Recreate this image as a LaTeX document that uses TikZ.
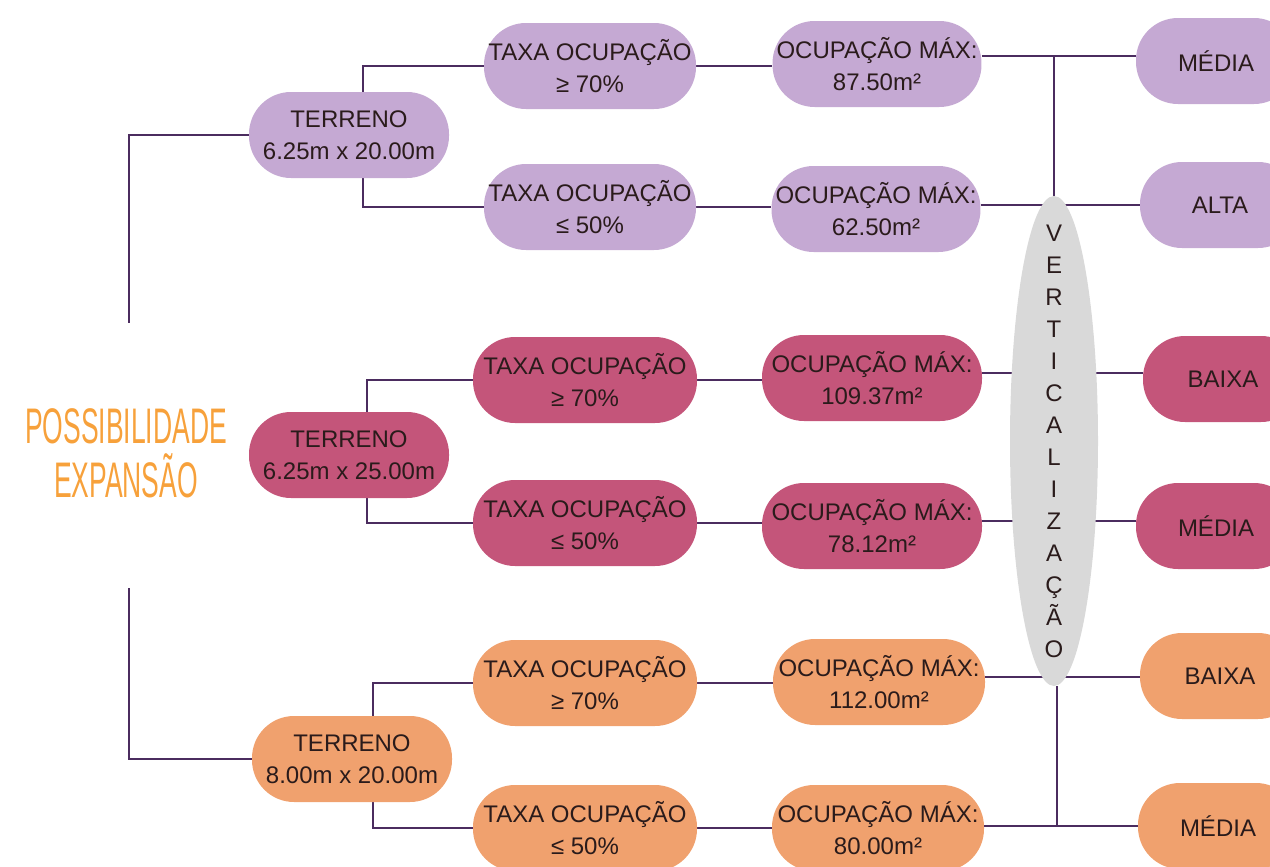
\documentclass[tikz,border=0pt]{standalone}
\usepackage{fontspec}
\setmainfont{Liberation Sans}
\newfontfamily\titlefont[FakeStretch=0.53]{Liberation Sans}
\usetikzlibrary{shapes.geometric,backgrounds,calc}

\definecolor{lilac}{HTML}{C5A9D3}
\definecolor{rose}{HTML}{C4557A}
\definecolor{peach}{HTML}{F0A16E}
\definecolor{mist}{HTML}{D9D9D9}
\definecolor{wire}{HTML}{4B2C5F}
\definecolor{ink}{HTML}{2A1B1B}
\definecolor{tangerine}{HTML}{F7A13B}

\tikzset{
  box/.style={rectangle, rounded corners=21pt, minimum height=43pt, minimum width=106pt,
    inner sep=2pt, align=center, text=ink, font=\fontsize{12}{16}\selectfont},
  resbox/.style={box, minimum width=80pt},
  link/.style={draw=wire, line width=1pt},
}

\begin{document}
\begin{tikzpicture}[x=0.5pt, y=-0.5pt]
    \useasboundingbox (0,0) rectangle (1270,867);
    \clip (0,0) rectangle (1270,867);

    % title
    \node[align=center, text=tangerine, font=\titlefont\fontsize{25}{27}\selectfont] (title) at (126,453) {POSSIBILIDADE\\EXPANSÃO};
    \coordinate (stemTop) at (129,323);
    \coordinate (stemBot) at (129,588);

    % first plot: 6.25 x 20.00
    \node[box, fill=lilac, minimum width=100pt] (terA) at (349,135) {TERRENO\\6.25m x 20.00m};
    \node[box, fill=lilac] (taxaA1) at (590,66) {TAXA OCUPAÇÃO\\≥ 70\%};
    \node[box, fill=lilac] (taxaA2) at (590,207) {TAXA OCUPAÇÃO\\≤ 50\%};
    \node[box, fill=lilac, minimum width=104pt] (ocupA1) at (877,64) {OCUPAÇÃO MÁX:\\87.50m²};
    \node[box, fill=lilac, minimum width=104pt] (ocupA2) at (876,209) {OCUPAÇÃO MÁX:\\62.50m²};
    \node[resbox, fill=lilac] (resA1) at (1216,61) {MÉDIA};
    \node[resbox, fill=lilac] (resA2) at (1220,205) {ALTA};

    % second plot: 6.25 x 25.00
    \node[box, fill=rose, minimum width=100pt] (terB) at (349,455) {TERRENO\\6.25m x 25.00m};
    \node[box, fill=rose, minimum width=112pt] (taxaB1) at (585,380) {TAXA OCUPAÇÃO\\≥ 70\%};
    \node[box, fill=rose, minimum width=112pt] (taxaB2) at (585,523) {TAXA OCUPAÇÃO\\≤ 50\%};
    \node[box, fill=rose, minimum width=110pt] (ocupB1) at (872,378) {OCUPAÇÃO MÁX:\\109.37m²};
    \node[box, fill=rose, minimum width=110pt] (ocupB2) at (872,526) {OCUPAÇÃO MÁX:\\78.12m²};
    \node[resbox, fill=rose] (resB1) at (1223,379) {BAIXA};
    \node[resbox, fill=rose] (resB2) at (1216,526) {MÉDIA};

    % third plot: 8.00 x 20.00
    \node[box, fill=peach, minimum width=100pt] (terC) at (352,759) {TERRENO\\8.00m x 20.00m};
    \node[box, fill=peach, minimum width=112pt] (taxaC1) at (585,683) {TAXA OCUPAÇÃO\\≥ 70\%};
    \node[box, fill=peach, minimum width=112pt] (taxaC2) at (585,828) {TAXA OCUPAÇÃO\\≤ 50\%};
    \node[box, fill=peach] (ocupC1) at (879,682) {OCUPAÇÃO MÁX:\\112.00m²};
    \node[box, fill=peach] (ocupC2) at (878,828) {OCUPAÇÃO MÁX:\\80.00m²};
    \node[resbox, fill=peach] (resC1) at (1220,676) {BAIXA};
    \node[resbox, fill=peach] (resC2) at (1218,826) {MÉDIA};

    % verticalizacao
    \node[ellipse, fill=mist, minimum width=44pt, minimum height=245pt, inner sep=0pt] (vert) at (1054,441) {};
    \node[align=center, text=ink, font=\fontsize{12}{16}\selectfont] (vertText) at (vert.center) {V\\E\\R\\T\\I\\C\\A\\L\\I\\Z\\A\\Ç\\Ã\\O};

    % line heights on the right
    \coordinate (rowA1) at ([yshift=4pt]ocupA1.east);
    \coordinate (rowA2) at ([yshift=2pt]ocupA2.east);
    \coordinate (rowB1) at ([yshift=2.5pt]ocupB1.east);
    \coordinate (rowB2) at ([yshift=2.5pt]ocupB2.east);
    \coordinate (rowC1) at ([yshift=2.5pt]ocupC1.east);
    \coordinate (rowC2) at ([yshift=1pt]ocupC2.east);
    \coordinate (vertBot) at ([xshift=1.5pt]vert.south);

    \begin{scope}[on background layer]
        \draw[link] (terA.west) -| (stemTop);
        \draw[link] (terC.west) -| (stemBot);
        % plot to rate
        \draw[link] ([xshift=7pt]terA.north) |- (taxaA1.west);
        \draw[link] ([xshift=7pt]terA.south) |- (taxaA2.west);
        \draw[link] ([xshift=9pt]terB.north) |- (taxaB1.west);
        \draw[link] ([xshift=9pt]terB.south) |- (taxaB2.west);
        \draw[link] ([xshift=10.5pt]terC.north) |- (taxaC1.west);
        \draw[link] ([xshift=10.5pt]terC.south) |- (taxaC2.west);
        % rate to max area
        \draw[link] (taxaA1.east) -- (taxaA1.east -| ocupA1.west);
        \draw[link] (taxaA2.east) -- (taxaA2.east -| ocupA2.west);
        \draw[link] (taxaB1.east) -- (taxaB1.east -| ocupB1.west);
        \draw[link] (taxaB2.east) -- (taxaB2.east -| ocupB2.west);
        \draw[link] (taxaC1.east) -- (taxaC1.east -| ocupC1.west);
        \draw[link] (taxaC2.east) -- (taxaC2.east -| ocupC2.west);
        % max area to height
        \draw[link] (rowA1) -- (rowA1 -| resA1.west);
        \draw[link] (rowA2) -- (rowA2 -| resA2.west);
        \draw[link] (rowB1) -- (rowB1 -| resB1.west);
        \draw[link] (rowB2) -- (rowB2 -| resB2.west);
        \draw[link] (rowC1) -- (rowC1 -| resC1.west);
        \draw[link] (rowC2) -- (rowC2 -| resC2.west);
        \draw[link] (vert.north) -- (vert.north |- rowA1);
        \draw[link] (vertBot) -- (vertBot |- rowC2);
    \end{scope}
\end{tikzpicture}
\end{document}
